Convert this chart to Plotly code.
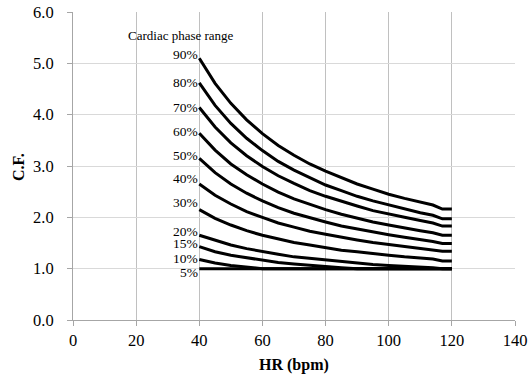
import plotly.graph_objects as go

# ---- data ----
hr = [40, 45, 50, 55, 60, 65, 70, 75, 80, 85, 90, 95, 100, 105, 110, 114, 117, 120]

cf_90 = [5.10, 4.61, 4.22, 3.90, 3.63, 3.40, 3.21, 3.04, 2.90, 2.77, 2.65, 2.55, 2.45, 2.37, 2.29, 2.24, 2.16, 2.16]
cf_80 = [4.62, 4.18, 3.83, 3.54, 3.30, 3.09, 2.92, 2.77, 2.63, 2.52, 2.41, 2.32, 2.24, 2.16, 2.09, 2.04, 1.97, 1.97]
cf_70 = [4.14, 3.76, 3.45, 3.20, 2.99, 2.81, 2.66, 2.52, 2.41, 2.31, 2.22, 2.13, 2.06, 2.00, 1.94, 1.89, 1.83, 1.83]
cf_60 = [3.64, 3.31, 3.04, 2.83, 2.65, 2.49, 2.36, 2.25, 2.15, 2.06, 1.98, 1.91, 1.85, 1.79, 1.74, 1.70, 1.65, 1.65]
cf_50 = [3.15, 2.87, 2.65, 2.47, 2.32, 2.19, 2.08, 1.99, 1.91, 1.83, 1.77, 1.71, 1.66, 1.61, 1.57, 1.53, 1.49, 1.49]
cf_40 = [2.65, 2.43, 2.26, 2.11, 2.00, 1.89, 1.81, 1.73, 1.67, 1.61, 1.56, 1.51, 1.47, 1.43, 1.40, 1.37, 1.34, 1.34]
cf_30 = [2.15, 1.98, 1.85, 1.74, 1.65, 1.58, 1.51, 1.46, 1.41, 1.36, 1.33, 1.29, 1.26, 1.23, 1.21, 1.19, 1.15, 1.15]
cf_20 = [1.65, 1.55, 1.46, 1.39, 1.33, 1.28, 1.23, 1.20, 1.16, 1.13, 1.11, 1.08, 1.06, 1.05, 1.03, 1.02, 1.00, 1.00]
cf_15 = [1.43, 1.33, 1.26, 1.21, 1.16, 1.12, 1.09, 1.06, 1.04, 1.02, 1.00, 1.00, 1.00, 1.00, 1.00, 1.00, 1.00, 1.00]
cf_10 = [1.18, 1.11, 1.06, 1.03, 1.00, 1.00, 1.00, 1.00, 1.00, 1.00, 1.00, 1.00, 1.00, 1.00, 1.00, 1.00, 1.00, 1.00]
cf_5 = [1.00, 1.00, 1.00, 1.00, 1.00, 1.00, 1.00, 1.00, 1.00, 1.00, 1.00, 1.00, 1.00, 1.00, 1.00, 1.00, 1.00, 1.00]

series_names = ["90%", "80%", "70%", "60%", "50%", "40%", "30%", "20%", "15%", "10%", "5%"]
series_values = [cf_90, cf_80, cf_70, cf_60, cf_50, cf_40, cf_30, cf_20, cf_15, cf_10, cf_5]

x_ticks = [0, 20, 40, 60, 80, 100, 120, 140]
y_ticks = [0, 1, 2, 3, 4, 5, 6]

x_title = "HR (bpm)"
y_title = "C.F."
legend_title = "Cardiac phase range"

# ---- styling ----
FONT = "Liberation Serif, Times New Roman, serif"
label_yshift = {"90%": 4, "80%": 0, "70%": 0, "60%": 2, "50%": 3, "40%": 5,
                "30%": 7, "20%": 4, "15%": 3, "10%": 1, "5%": -4}

fig = go.Figure()
for name, vals in zip(series_names, series_values):
    fig.add_trace(go.Scatter(x=hr, y=vals, mode="lines", name=name,
                             line=dict(color="black", width=3),
                             showlegend=False))
    fig.add_annotation(x=hr[0], y=vals[0], text=name, showarrow=False,
                       xanchor="right", yanchor="middle", xshift=1,
                       yshift=label_yshift[name],
                       font=dict(family=FONT, size=13.5, color="black"))

fig.add_annotation(x=34.1, y=5.55, text=legend_title, showarrow=False,
                   xanchor="center", yanchor="middle",
                   font=dict(family=FONT, size=13, color="black"))

# axis titles
fig.add_annotation(xref="paper", yref="paper", x=0.5, y=-0.146,
                   text="<b>" + x_title + "</b>", showarrow=False,
                   xanchor="center", yanchor="middle",
                   font=dict(family=FONT, size=16, color="black"))
fig.add_annotation(xref="paper", yref="paper", x=-0.122, y=0.497,
                   text="<b>" + y_title + "</b>", showarrow=False, textangle=-90,
                   xanchor="center", yanchor="middle",
                   font=dict(family=FONT, size=16, color="black"))

fig.update_layout(
    width=529, height=376,
    margin=dict(l=73, r=14, t=12, b=56),
    paper_bgcolor="white", plot_bgcolor="white",
    font=dict(family=FONT, color="black"),
    xaxis=dict(range=[0, 140], tickvals=x_ticks, showgrid=True, gridcolor="#c0c0c0",
               gridwidth=1, showline=True, linecolor="#a6a6a6", linewidth=1,
               ticks="outside", ticklen=5, tickcolor="#a6a6a6", zeroline=False,
               automargin=False,
               tickfont=dict(family=FONT, size=16.5, color="black")),
    yaxis=dict(range=[0, 6], tickvals=y_ticks, tickformat=".1f", showgrid=True,
               gridcolor="#d9d9d9", gridwidth=1, showline=True, linecolor="#a6a6a6",
               linewidth=1, ticks="outside", ticklen=5, tickcolor="#a6a6a6",
               zeroline=False, ticklabelstandoff=10, automargin=False,
               tickfont=dict(family=FONT, size=16.5, color="black")),
)

fig.write_html("out.html")
